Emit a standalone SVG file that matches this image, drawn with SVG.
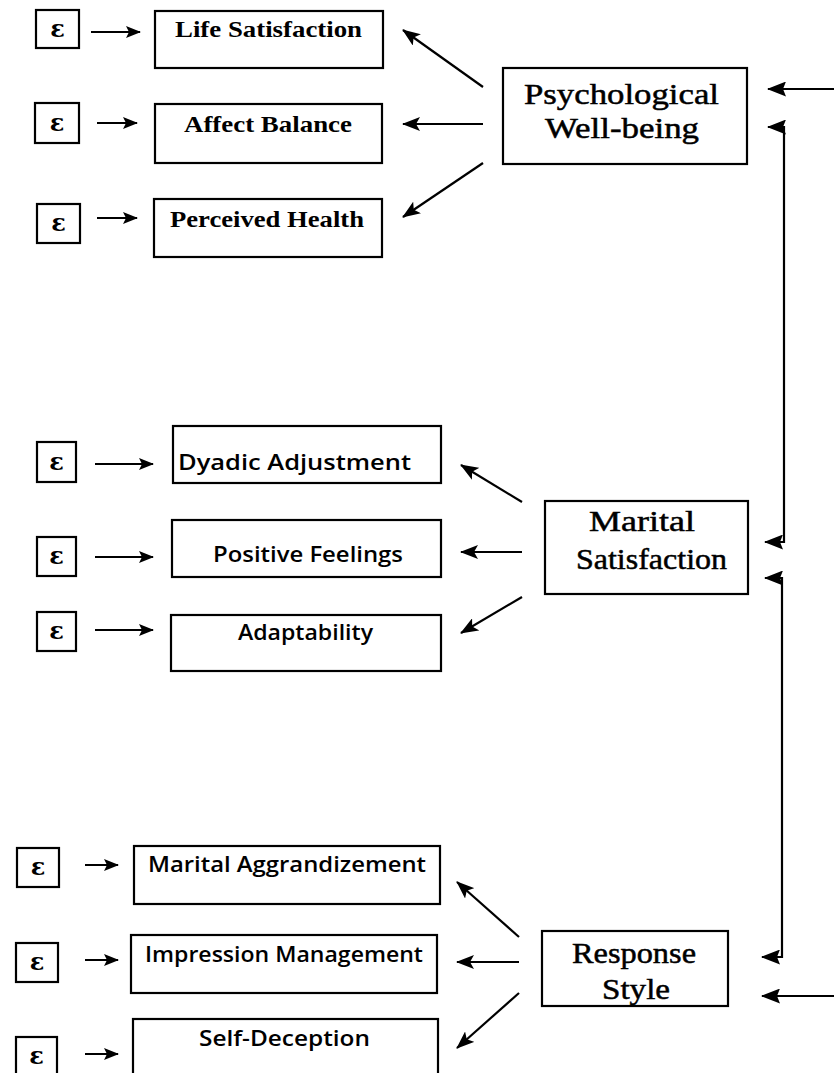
<svg xmlns="http://www.w3.org/2000/svg" width="834" height="1073" viewBox="0 0 834 1073">
<defs>
<style>
.box{fill:#fff;stroke:#000;stroke-width:2.2}
.eps{fill:#fff;stroke:#000;stroke-width:2.2}
.con{fill:none;stroke:#000;stroke-width:2.2}
.et{font-family:"DejaVu Serif","Liberation Serif",serif;font-size:24px;font-weight:bold;text-anchor:middle;fill:#000}
.big{font-family:"Liberation Serif","Times New Roman",serif;font-size:30px;text-anchor:middle;fill:#000;stroke:#000;stroke-width:0.5}
.sm1{font-family:"Liberation Serif","Times New Roman",serif;font-size:24px;font-weight:bold;text-anchor:middle;fill:#000}
.sm2{font-family:"Open Sans","Noto Sans",sans-serif;font-size:22px;font-weight:600;text-anchor:middle;fill:#000}
</style>
<marker id="ah" markerUnits="userSpaceOnUse" markerWidth="18" markerHeight="14" refX="17" refY="7" orient="auto-start-reverse" viewBox="0 0 18 14">
<path d="M0,0 L18,7 L0,14 L4,7 z" fill="#000"/>
</marker>
<marker id="ahs" markerUnits="userSpaceOnUse" markerWidth="15" markerHeight="12" refX="14" refY="6" orient="auto" viewBox="0 0 15 12">
<path d="M0,0 L15,6 L0,12 L3,6 z" fill="#000"/>
</marker>
<marker id="ahr" markerUnits="userSpaceOnUse" markerWidth="19" markerHeight="15" refX="18" refY="7.5" orient="auto-start-reverse" viewBox="0 0 19 15">
<path d="M0,0 L19,7.5 L0,15 L3,7.5 z" fill="#000"/>
</marker>
</defs>
<rect x="0" y="0" width="834" height="1073" fill="#fff"/>

<g id="connectors">
<line class="con" x1="91" y1="32" x2="140" y2="32" marker-end="url(#ahs)"/>
<line class="con" x1="97" y1="123" x2="137" y2="123" marker-end="url(#ahs)"/>
<line class="con" x1="97" y1="218" x2="137" y2="218" marker-end="url(#ahs)"/>
<line class="con" x1="95" y1="464" x2="153" y2="464" marker-end="url(#ahs)"/>
<line class="con" x1="95" y1="557" x2="153" y2="557" marker-end="url(#ahs)"/>
<line class="con" x1="95" y1="630" x2="153" y2="630" marker-end="url(#ahs)"/>
<line class="con" x1="85" y1="865" x2="118" y2="865" marker-end="url(#ahs)"/>
<line class="con" x1="85" y1="960" x2="118" y2="960" marker-end="url(#ahs)"/>
<line class="con" x1="85" y1="1054" x2="118" y2="1054" marker-end="url(#ahs)"/>

<line class="con" x1="483" y1="87" x2="403" y2="30" marker-end="url(#ah)"/>
<line class="con" x1="483" y1="124" x2="403" y2="124" marker-end="url(#ah)"/>
<line class="con" x1="483" y1="163" x2="403" y2="217" marker-end="url(#ah)"/>

<line class="con" x1="522" y1="502" x2="461" y2="465" marker-end="url(#ah)"/>
<line class="con" x1="522" y1="552" x2="461" y2="552" marker-end="url(#ah)"/>
<line class="con" x1="522" y1="597" x2="461" y2="633" marker-end="url(#ah)"/>

<line class="con" x1="519" y1="937" x2="457" y2="882" marker-end="url(#ah)"/>
<line class="con" x1="519" y1="962" x2="457" y2="962" marker-end="url(#ah)"/>
<line class="con" x1="519" y1="993" x2="457" y2="1048" marker-end="url(#ah)"/>

<line class="con" x1="836" y1="89" x2="768" y2="89" marker-end="url(#ahr)"/>
<path class="con" d="M768,127 H784 V542 H765" marker-start="url(#ahr)" marker-end="url(#ahr)"/>
<path class="con" d="M765,578 H782 V957 H762" marker-start="url(#ahr)" marker-end="url(#ahr)"/>
<line class="con" x1="836" y1="996" x2="762" y2="996" marker-end="url(#ahr)"/>
</g>

<g id="e1"><rect class="eps" x="36" y="10" width="43" height="38"/><text class="et" x="57.5" y="37">ε</text></g>
<g id="e2"><rect class="eps" x="35" y="103" width="44" height="40"/><text class="et" x="57" y="131">ε</text></g>
<g id="e3"><rect class="eps" x="37" y="204" width="43" height="39"/><text class="et" x="58.5" y="231">ε</text></g>
<g id="e4"><rect class="eps" x="37" y="442" width="39" height="40"/><text class="et" x="56.5" y="470">ε</text></g>
<g id="e5"><rect class="eps" x="37" y="537" width="39" height="39"/><text class="et" x="56.5" y="564">ε</text></g>
<g id="e6"><rect class="eps" x="37" y="612" width="39" height="39"/><text class="et" x="56.5" y="639">ε</text></g>
<g id="e7"><rect class="eps" x="17" y="848" width="42" height="39"/><text class="et" x="38" y="875">ε</text></g>
<g id="e8"><rect class="eps" x="16" y="943" width="42" height="39"/><text class="et" x="37" y="970">ε</text></g>
<g id="e9"><rect class="eps" x="16" y="1037" width="41" height="45"/><text class="et" x="36.5" y="1064">ε</text></g>

<g id="life-satisfaction"><rect class="box" x="155" y="11" width="228" height="57"/><text class="sm1" x="268.5" y="37" textLength="187" lengthAdjust="spacingAndGlyphs">Life Satisfaction</text></g>
<g id="affect-balance"><rect class="box" x="155" y="104" width="227" height="59"/><text class="sm1" x="268" y="132" textLength="168" lengthAdjust="spacingAndGlyphs">Affect Balance</text></g>
<g id="perceived-health"><rect class="box" x="154" y="199" width="228" height="58"/><text class="sm1" x="267" y="227" textLength="194" lengthAdjust="spacingAndGlyphs">Perceived Health</text></g>

<g id="dyadic-adjustment"><rect class="box" x="173" y="426" width="268" height="57"/><text class="sm2" x="294.5" y="470" textLength="233" lengthAdjust="spacingAndGlyphs">Dyadic Adjustment</text></g>
<g id="positive-feelings"><rect class="box" x="172" y="520" width="269" height="57"/><text class="sm2" x="308" y="562" textLength="190" lengthAdjust="spacingAndGlyphs">Positive Feelings</text></g>
<g id="adaptability"><rect class="box" x="171" y="615" width="270" height="56"/><text class="sm2" x="305.5" y="640" textLength="135" lengthAdjust="spacingAndGlyphs">Adaptability</text></g>

<g id="marital-aggrandizement"><rect class="box" x="134" y="846" width="306" height="58"/><text class="sm2" x="287" y="872" textLength="278" lengthAdjust="spacingAndGlyphs">Marital Aggrandizement</text></g>
<g id="impression-management"><rect class="box" x="131" y="935" width="306" height="58"/><text class="sm2" x="284" y="962" textLength="278" lengthAdjust="spacingAndGlyphs">Impression Management</text></g>
<g id="self-deception"><rect class="box" x="133" y="1019" width="305" height="70"/><text class="sm2" x="284.5" y="1046" textLength="171" lengthAdjust="spacingAndGlyphs">Self-Deception</text></g>

<g id="psychological-well-being"><rect class="box" x="503" y="68" width="244" height="96"/>
<text class="big" x="621.5" y="104" textLength="195" lengthAdjust="spacingAndGlyphs">Psychological</text>
<text class="big" x="622" y="138" textLength="154" lengthAdjust="spacingAndGlyphs">Well-being</text></g>
<g id="marital-satisfaction"><rect class="box" x="545" y="501" width="203" height="93"/>
<text class="big" x="642" y="531" textLength="106" lengthAdjust="spacingAndGlyphs">Marital</text>
<text class="big" x="651.5" y="569" textLength="151" lengthAdjust="spacingAndGlyphs">Satisfaction</text></g>
<g id="response-style"><rect class="box" x="542" y="931" width="186" height="75"/>
<text class="big" x="634" y="963" textLength="124" lengthAdjust="spacingAndGlyphs">Response</text>
<text class="big" x="636" y="999" textLength="68" lengthAdjust="spacingAndGlyphs">Style</text></g>
</svg>
